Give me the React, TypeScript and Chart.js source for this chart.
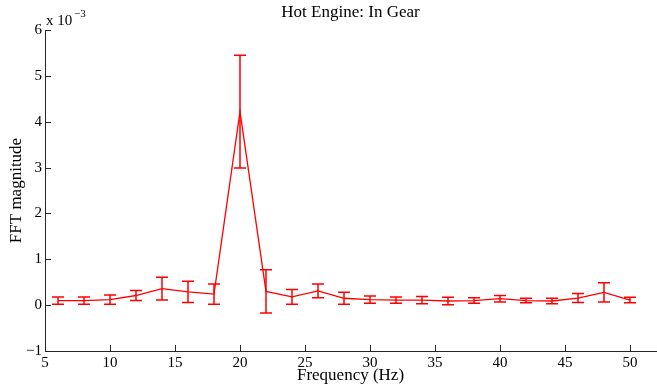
import React, { useEffect, useRef } from "react";
import { Chart, registerables } from "chart.js";

Chart.register(...registerables);

const freqs = [6, 8, 10, 12, 14, 16, 18, 20, 22, 24, 26, 28, 30, 32, 34, 36, 38, 40, 42, 44, 46, 48, 50];
// FFT magnitude in units of 1e-3
const magnitude = [0.10, 0.10, 0.12, 0.21, 0.36, 0.29, 0.24, 4.22, 0.30, 0.18, 0.31, 0.15, 0.12, 0.11, 0.11, 0.09, 0.10, 0.14, 0.10, 0.09, 0.155, 0.28, 0.11];
const errors = [0.08, 0.08, 0.10, 0.11, 0.25, 0.23, 0.22, 1.23, 0.47, 0.16, 0.15, 0.13, 0.08, 0.07, 0.08, 0.08, 0.06, 0.07, 0.05, 0.06, 0.10, 0.21, 0.06];
const xTicks = [5, 10, 15, 20, 25, 30, 35, 40, 45, 50];
const yTicks = [-1, 0, 1, 2, 3, 4, 5, 6];

const titleText = "Hot Engine: In Gear";
const xLabel = "Frequency (Hz)";
const yLabel = "FFT magnitude";

const FONT = "'Liberation Serif', 'Times New Roman', serif";
const RED = "#ff0000";
const AXIS = "#262626";

const decorPlugin = {
  id: "decor",
  afterDatasetsDraw(chart: any) {
    const ctx = chart.ctx;
    const xs = chart.scales.x;
    const ys = chart.scales.y;
    const area = chart.chartArea;
    // error bars
    ctx.save();
    ctx.strokeStyle = RED;
    ctx.lineWidth = 1.5;
    freqs.forEach((f, i) => {
      const px = xs.getPixelForValue(f);
      const top = ys.getPixelForValue(magnitude[i] + errors[i]);
      const bot = ys.getPixelForValue(magnitude[i] - errors[i]);
      ctx.beginPath();
      ctx.moveTo(px, top);
      ctx.lineTo(px, bot);
      ctx.moveTo(px - 6, top);
      ctx.lineTo(px + 6, top);
      ctx.moveTo(px - 6, bot);
      ctx.lineTo(px + 6, bot);
      ctx.stroke();
    });
    ctx.restore();
  },
  afterDraw(chart: any) {
    const ctx = chart.ctx;
    const xs = chart.scales.x;
    const ys = chart.scales.y;
    const area = chart.chartArea;
    ctx.save();
    // inward ticks
    ctx.strokeStyle = AXIS;
    ctx.lineWidth = 1;
    ctx.beginPath();
    xTicks.forEach((v) => {
      const px = Math.round(xs.getPixelForValue(v)) + 0.5;
      ctx.moveTo(px, area.bottom);
      ctx.lineTo(px, area.bottom - 6);
    });
    yTicks.forEach((v) => {
      const py = Math.round(ys.getPixelForValue(v)) + 0.5;
      ctx.moveTo(area.left, py);
      ctx.lineTo(area.left + 6, py);
    });
    ctx.stroke();

    ctx.fillStyle = "#000";
    // title
    ctx.font = `17px ${FONT}`;
    ctx.textAlign = "center";
    ctx.textBaseline = "middle";
    ctx.fillText(titleText, (area.left + area.right) / 2, 13);
    // x label
    ctx.fillText(xLabel, (area.left + area.right) / 2, 376);
    // y label
    ctx.save();
    ctx.translate(17, (area.top + area.bottom) / 2);
    ctx.rotate(-Math.PI / 2);
    ctx.fillText(yLabel, 0, 0);
    ctx.restore();
    // exponent
    ctx.textAlign = "left";
    ctx.textBaseline = "alphabetic";
    ctx.font = `15px ${FONT}`;
    ctx.fillText("x 10", 46, 25);
    ctx.font = `11px ${FONT}`;
    ctx.fillText("\u22123", 74, 17);
    ctx.restore();
  },
};

export default function App() {
  const ref = useRef<HTMLCanvasElement | null>(null);
  useEffect(() => {
    if (!ref.current) return;
    const chart = new Chart(ref.current, {
      type: "line",
      data: {
        datasets: [
          {
            data: freqs.map((f, i) => ({ x: f, y: magnitude[i] })),
            borderColor: RED,
            borderWidth: 1.3,
            pointRadius: 0,
            tension: 0,
            fill: false,
          },
        ],
      },
      options: {
        animation: false,
        responsive: false,
        maintainAspectRatio: false,
        layout: { padding: { top: 30, right: 1, left: 0, bottom: 0 } },
        plugins: {
          legend: { display: false },
          tooltip: { enabled: false },
          title: { display: false },
        },
        scales: {
          x: {
            type: "linear",
            min: 5,
            max: 52,
            afterBuildTicks: (s: any) => {
              s.ticks = xTicks.map((v) => ({ value: v }));
            },
            afterFit: (s: any) => {
              s.height = 36;
            },
            grid: { display: false, drawTicks: false },
            border: { display: true, color: AXIS, width: 1 },
            ticks: {
              padding: 3,
              color: "#000",
              font: { family: FONT, size: 15 },
              maxRotation: 0,
              autoSkip: false,
            },
          },
          y: {
            type: "linear",
            min: -1,
            max: 6,
            afterBuildTicks: (s: any) => {
              s.ticks = yTicks.map((v) => ({ value: v }));
            },
            afterFit: (s: any) => {
              s.width = 45;
            },
            grid: { display: false, drawTicks: false },
            border: { display: true, color: AXIS, width: 1 },
            ticks: {
              padding: 3,
              color: "#000",
              font: { family: FONT, size: 15 },
              callback: (v: any) => (Number(v) < 0 ? "\u2212" + Math.abs(Number(v)) : String(v)),
            },
          },
        },
      },
      plugins: [decorPlugin],
    });
    return () => chart.destroy();
  }, []);
  return (
    <div style={{ position: "absolute", left: 0, top: 0, width: 657, height: 387, background: "#fff" }}>
      <canvas ref={ref} width={657} height={387} style={{ display: "block" }} />
    </div>
  );
}
